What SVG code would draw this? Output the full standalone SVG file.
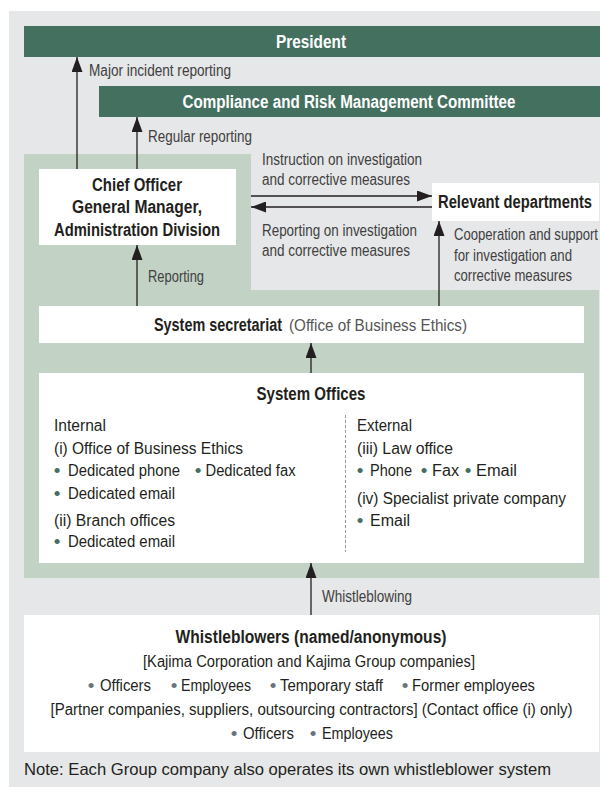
<svg xmlns="http://www.w3.org/2000/svg" width="600" height="787" viewBox="0 0 600 787">
<defs>
<style>
text{font-family:"Liberation Sans",Arial,sans-serif;font-size:16px;fill:#231f20}
.bar{fill:#44705f}
.w{fill:#ffffff}
.bt{fill:#ffffff;font-weight:bold;font-size:18px;text-anchor:middle}
.b{font-weight:bold;font-size:18px}
.c{text-anchor:middle}
.lbl{fill:#404040}
.lt{fill:#555555}
.gb{fill:#44705f;font-size:19px}
.kb{fill:#6b747c;font-size:19px}
.note{font-size:16.5px}
.conn line{stroke:#231f20;stroke-width:1.3;fill:none}
</style>
<marker id="ah" viewBox="0 0 15 11" refX="15" refY="5.5" markerWidth="15" markerHeight="11" markerUnits="userSpaceOnUse" orient="auto">
<path d="M0,0 L15,5.5 L0,11 z" fill="#231f20"/>
</marker>
</defs>

<rect id="background" x="9" y="11" width="591" height="776" fill="#e6e7e8"/>
<path id="system-zone" d="M24,154 H251 V290 H599 V578 H24 Z" fill="#c2d3c6"/>

<g id="president">
<rect class="bar" x="24" y="26" width="576" height="31"/>
<text class="bt" x="311" y="48" textLength="70" lengthAdjust="spacingAndGlyphs">President</text>
</g>

<g id="committee">
<rect class="bar" x="99" y="86" width="501" height="31"/>
<text class="bt" x="349" y="108" textLength="333" lengthAdjust="spacingAndGlyphs">Compliance and Risk Management Committee</text>
</g>

<g id="chief-officer">
<rect class="w" x="39" y="169" width="197" height="76"/>
<text class="b c" x="137" y="191" textLength="90" lengthAdjust="spacingAndGlyphs">Chief Officer</text>
<text class="b c" x="137" y="213" textLength="130" lengthAdjust="spacingAndGlyphs">General Manager,</text>
<text class="b c" x="137" y="236" textLength="166" lengthAdjust="spacingAndGlyphs">Administration Division</text>
</g>

<g id="relevant-departments">
<rect class="w" x="432" y="183" width="167" height="38"/>
<text class="b" x="438" y="208" textLength="154" lengthAdjust="spacingAndGlyphs">Relevant departments</text>
</g>

<g id="secretariat">
<rect class="w" x="39" y="306" width="545" height="37"/>
<text class="b" x="154" y="331" textLength="128" lengthAdjust="spacingAndGlyphs">System secretariat</text>
<text class="lt" x="289" y="331" textLength="178" lengthAdjust="spacingAndGlyphs">(Office of Business Ethics)</text>
</g>

<g id="system-offices">
<rect class="w" x="39" y="373" width="545" height="190"/>
<text class="b c" x="311" y="400" textLength="109" lengthAdjust="spacingAndGlyphs">System Offices</text>
<line x1="345.5" y1="415" x2="345.5" y2="552" stroke="#9a9a9a" stroke-width="1" stroke-dasharray="3,2"/>
<text x="54" y="430.5" textLength="52" lengthAdjust="spacingAndGlyphs">Internal</text>
<text x="54" y="454" textLength="189" lengthAdjust="spacingAndGlyphs">(i) Office of Business Ethics</text>
<text class="gb" x="53.7" y="476.5">•</text>
<text x="68" y="475.5" textLength="112" lengthAdjust="spacingAndGlyphs">Dedicated phone</text>
<text class="gb" x="194.7" y="476.5">•</text>
<text x="205.5" y="475.5" textLength="90" lengthAdjust="spacingAndGlyphs">Dedicated fax</text>
<text class="gb" x="53.7" y="500">•</text>
<text x="68" y="499" textLength="107" lengthAdjust="spacingAndGlyphs">Dedicated email</text>
<text x="54" y="525.5" textLength="121" lengthAdjust="spacingAndGlyphs">(ii) Branch offices</text>
<text class="gb" x="53.7" y="548">•</text>
<text x="68" y="547" textLength="107" lengthAdjust="spacingAndGlyphs">Dedicated email</text>
<text x="357" y="430.5" textLength="55" lengthAdjust="spacingAndGlyphs">External</text>
<text x="357" y="454" textLength="96" lengthAdjust="spacingAndGlyphs">(iii) Law office</text>
<text class="gb" x="356.7" y="476.5">•</text>
<text x="370" y="475.5" textLength="42" lengthAdjust="spacingAndGlyphs">Phone</text>
<text class="gb" x="420.7" y="476.5">•</text>
<text x="432" y="475.5" textLength="27" lengthAdjust="spacingAndGlyphs">Fax</text>
<text class="gb" x="464.7" y="476.5">•</text>
<text x="476" y="475.5" textLength="41" lengthAdjust="spacingAndGlyphs">Email</text>
<text x="357" y="504" textLength="209" lengthAdjust="spacingAndGlyphs">(iv) Specialist private company</text>
<text class="gb" x="356.7" y="526.5">•</text>
<text x="370" y="525.5" textLength="40" lengthAdjust="spacingAndGlyphs">Email</text>
</g>

<g id="whistleblowers">
<rect class="w" x="24" y="615" width="575" height="137"/>
<text class="b c" x="311" y="642.5" textLength="271" lengthAdjust="spacingAndGlyphs">Whistleblowers (named/anonymous)</text>
<text class="c" x="309" y="666.5" textLength="332" lengthAdjust="spacingAndGlyphs">[Kajima Corporation and Kajima Group companies]</text>
<text class="kb" x="87.7" y="691.5">•</text>
<text x="100" y="690.5" textLength="51" lengthAdjust="spacingAndGlyphs">Officers</text>
<text class="kb" x="170.7" y="691.5">•</text>
<text x="181" y="690.5" textLength="70" lengthAdjust="spacingAndGlyphs">Employees</text>
<text class="kb" x="269.7" y="691.5">•</text>
<text x="280" y="690.5" textLength="103" lengthAdjust="spacingAndGlyphs">Temporary staff</text>
<text class="kb" x="401.7" y="691.5">•</text>
<text x="412" y="690.5" textLength="123" lengthAdjust="spacingAndGlyphs">Former employees</text>
<text class="c" x="311.5" y="714.5" textLength="522" lengthAdjust="spacingAndGlyphs">[Partner companies, suppliers, outsourcing contractors] (Contact office (i) only)</text>
<text class="kb" x="230.7" y="739.5">•</text>
<text x="243" y="738.5" textLength="51" lengthAdjust="spacingAndGlyphs">Officers</text>
<text class="kb" x="309.7" y="739.5">•</text>
<text x="322" y="738.5" textLength="71" lengthAdjust="spacingAndGlyphs">Employees</text>
</g>

<g id="connectors" class="conn">
<line x1="77" y1="169" x2="77" y2="57" marker-end="url(#ah)"/>
<line x1="137" y1="169" x2="137" y2="117" marker-end="url(#ah)"/>
<line x1="251" y1="196" x2="432" y2="196" marker-end="url(#ah)"/>
<line x1="432" y1="207" x2="251" y2="207" marker-end="url(#ah)"/>
<line x1="439" y1="306" x2="439" y2="221" marker-end="url(#ah)"/>
<line x1="137" y1="306" x2="137" y2="245" marker-end="url(#ah)"/>
<line x1="311" y1="373" x2="311" y2="343" marker-end="url(#ah)"/>
<line x1="311" y1="615" x2="311" y2="563" marker-end="url(#ah)"/>
</g>

<g id="connector-labels">
<text class="lbl" x="89" y="76" textLength="142" lengthAdjust="spacingAndGlyphs">Major incident reporting</text>
<text class="lbl" x="148" y="142" textLength="104" lengthAdjust="spacingAndGlyphs">Regular reporting</text>
<text class="lbl" x="262" y="165" textLength="160" lengthAdjust="spacingAndGlyphs">Instruction on investigation</text>
<text class="lbl" x="262" y="185" textLength="148" lengthAdjust="spacingAndGlyphs">and corrective measures</text>
<text class="lbl" x="262" y="235.5" textLength="155" lengthAdjust="spacingAndGlyphs">Reporting on investigation</text>
<text class="lbl" x="262" y="256" textLength="148" lengthAdjust="spacingAndGlyphs">and corrective measures</text>
<text class="lbl" x="454" y="240" textLength="144" lengthAdjust="spacingAndGlyphs">Cooperation and support</text>
<text class="lbl" x="454" y="261" textLength="118" lengthAdjust="spacingAndGlyphs">for investigation and</text>
<text class="lbl" x="454" y="281" textLength="118" lengthAdjust="spacingAndGlyphs">corrective measures</text>
<text class="lbl" x="148" y="282" textLength="56" lengthAdjust="spacingAndGlyphs">Reporting</text>
<text class="lbl" x="322" y="602" textLength="90" lengthAdjust="spacingAndGlyphs">Whistleblowing</text>
</g>

<text id="note" class="note" x="24" y="775" textLength="527" lengthAdjust="spacingAndGlyphs">Note: Each Group company also operates its own whistleblower system</text>
</svg>
